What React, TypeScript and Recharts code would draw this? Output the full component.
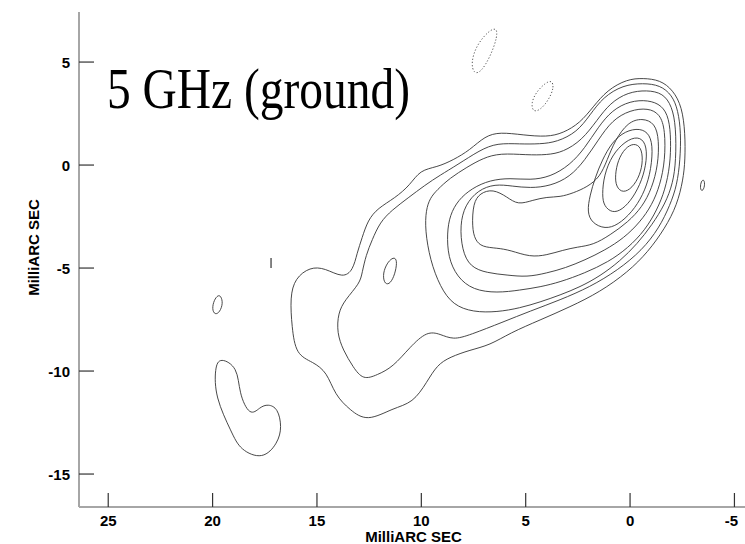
import React from 'react';
import { LineChart, Line, XAxis, YAxis } from 'recharts';

type Pt = [number, number];

const xTicks = [25, 20, 15, 10, 5, 0, -5];
const yTicks = [5, 0, -5, -10, -15];

// solid contours of the main source, outer -> inner (mas offsets)
const contour1: Pt[] = [
  [15.33, -4.95], [14.62, -5.0], [13.75, -5.49], [13.27, -5.1], [13.08, -4.27], [12.84, -3.54],
  [12.56, -2.67], [12.08, -2.09], [11.26, -1.6], [10.54, -0.97], [10.06, -0.24], [9.25, -0.1],
  [8.48, 0.24], [7.67, 0.73], [6.95, 1.41], [6.23, 1.6], [5.13, 1.46], [3.98, 1.36], [3.21, 1.55],
  [2.4, 2.04], [1.77, 2.82], [1.1, 3.64], [0.14, 4.17], [-0.62, 4.22], [-1.44, 4.13], [-2.06, 3.64],
  [-2.49, 2.82], [-2.64, 1.55], [-2.64, 0.24], [-2.54, -0.73], [-2.25, -1.94], [-1.68, -3.06],
  [-0.86, -4.22], [0.1, -5.19], [1.44, -6.16], [2.88, -6.89], [4.31, -7.52], [5.75, -8.15],
  [6.71, -8.74], [7.67, -8.98], [8.63, -9.32], [9.25, -9.71], [9.73, -10.53], [10.4, -11.55],
  [11.36, -11.8], [12.6, -12.47], [13.42, -11.89], [14.14, -11.16], [14.52, -10.05], [15.19, -9.56],
  [16.01, -9.22], [16.2, -7.86], [16.29, -6.41], [16.05, -5.49],
];
const contour2: Pt[] = [
  [13.75, -8.98], [14.04, -8.15], [13.99, -7.18], [13.66, -6.55], [12.94, -5.73], [12.84, -5.24],
  [12.65, -4.37], [12.36, -3.64], [11.98, -2.77], [11.4, -2.18], [10.64, -1.6], [9.82, -0.97],
  [9.1, -0.49], [8.29, 0], [7.19, 0.73], [6.37, 1.07], [5.27, 1.02], [4.31, 1.02], [3.5, 1.12],
  [2.54, 1.6], [1.92, 2.43], [1.29, 3.3], [0.34, 3.88], [-0.62, 3.98], [-1.44, 3.88], [-2.01, 3.4],
  [-2.3, 2.67], [-2.44, 1.55], [-2.4, 0.24], [-2.25, -0.97], [-1.92, -1.94], [-1.39, -3.06],
  [-0.58, -4.13], [0.58, -5.1], [1.92, -5.92], [3.35, -6.55], [4.79, -7.09], [6.09, -7.62],
  [7.67, -8.25], [8.48, -8.49], [9.1, -8.2], [9.73, -8.06], [10.54, -8.83], [11.36, -9.81],
  [12.12, -10.19], [12.79, -10.44], [13.27, -9.81],
];
const contour3: Pt[] = [
  [9.58, -1.6], [9.78, -2.18], [9.82, -3.16], [9.58, -4.61], [9.1, -5.92], [8.48, -6.8],
  [7.52, -7.14], [6.37, -7.14], [5.27, -6.94], [4.31, -6.65], [3.35, -6.31], [2.4, -5.92],
  [1.44, -5.39], [0.48, -4.66], [-0.34, -3.83], [-1.05, -2.91], [-1.68, -1.89], [-2.06, -0.87],
  [-2.2, 0.24], [-2.2, 1.84], [-2.01, 2.86], [-1.58, 3.49], [-0.81, 3.64], [0.1, 3.54],
  [0.96, 3.01], [1.58, 2.18], [2.3, 1.21], [3.21, 0.63], [3.98, 0.49], [4.94, 0.49], [6.23, 0.58],
  [7.04, 0.34], [7.81, -0.1], [8.63, -0.63], [9.25, -1.21],
];
const contour4: Pt[] = [
  [8.77, -3.3], [8.63, -2.43], [8.24, -1.7], [7.57, -1.12], [6.71, -0.73], [5.75, -0.63],
  [4.79, -0.73], [3.83, -0.58], [2.88, 0], [2.16, 0.83], [1.53, 1.84], [0.86, 2.67], [0, 3.11],
  [-0.86, 3.16], [-1.53, 2.91], [-1.87, 2.28], [-1.96, 1.21], [-1.92, 0], [-1.68, -1.21],
  [-1.29, -2.18], [-0.72, -3.16], [0.1, -4.03], [1.05, -4.71], [2.16, -5.24], [3.35, -5.68],
  [4.31, -5.92], [5.27, -6.07], [6.37, -6.21], [7.52, -6.07], [8.29, -5.44], [8.72, -4.47],
];
const contour5: Pt[] = [
  [8.15, -2.91], [7.91, -1.94], [7.28, -1.21], [6.47, -0.92], [5.65, -1.02], [4.79, -1.12],
  [3.83, -1.02], [2.88, -0.58], [2.16, 0.24], [1.53, 1.21], [0.86, 2.18], [0, 2.67], [-0.86, 2.77],
  [-1.44, 2.48], [-1.68, 1.7], [-1.68, 0.24], [-1.44, -0.97], [-1.05, -1.94], [-0.48, -2.77],
  [0.29, -3.54], [1.2, -4.13], [2.16, -4.61], [3.11, -5.0], [3.98, -5.24], [4.94, -5.44],
  [5.89, -5.34], [6.85, -5.24], [7.67, -4.95], [8.05, -4.13],
];
const contour6: Pt[] = [
  [7.52, -1.84], [7.19, -1.36], [6.57, -1.16], [5.89, -1.55], [5.37, -1.94], [4.65, -1.7],
  [3.98, -1.55], [3.35, -1.55], [2.73, -1.36], [2.06, -1.07], [1.44, -0.58], [1.1, 0.24],
  [0.72, 1.21], [0.1, 2.09], [-0.58, 2.28], [-1.2, 2.04], [-1.39, 1.21], [-1.34, 0], [-1.05, -1.12],
  [-0.58, -2.04], [0.1, -2.77], [0.96, -3.4], [1.77, -3.88], [2.54, -3.98], [3.21, -4.13],
  [3.98, -4.37], [4.79, -4.47], [5.75, -4.13], [6.37, -4.03], [7.09, -3.98], [7.43, -3.64], [7.57, -3.01],
];
const contour7: Pt[] = [
  [2.06, -2.28], [1.92, -1.46], [1.68, -0.63], [1.34, 0.24], [0.86, 1.12], [0.24, 1.65],
  [-0.48, 1.8], [-0.96, 1.5], [-1.1, 0.73], [-0.96, -0.49], [-0.62, -1.46], [-0.1, -2.28],
  [0.58, -2.91], [1.2, -3.11], [1.82, -2.82],
];
const contour8: Pt[] = [
  [1.34, -1.46], [1.25, -0.49], [0.86, 0.49], [0.24, 1.16], [-0.38, 1.41], [-0.77, 1.07],
  [-0.81, 0.24], [-0.58, -0.73], [-0.14, -1.6], [0.38, -2.18], [0.86, -2.33], [1.25, -1.99],
];
const contour9: Pt[] = [
  [0.72, -0.49], [0.58, 0.24], [0.24, 0.83], [-0.19, 1.07], [-0.53, 0.87], [-0.62, 0.24],
  [-0.48, -0.49], [-0.1, -1.12], [0.34, -1.36], [0.67, -1.07],
];

// small positive islands
const islandMid: Pt[] = [
  [11.21, -4.51], [11.17, -4.85], [11.31, -5.44], [11.55, -5.82], [11.79, -5.73], [11.84, -5.24],
  [11.64, -4.76], [11.4, -4.51],
];
const islandWest: Pt[] = [
  [19.6, -6.36], [19.5, -6.7], [19.65, -7.14], [19.89, -7.28], [20.03, -6.99], [19.93, -6.55], [19.74, -6.31],
];
const islandEast: Pt[] = [
  [-3.55, -0.68], [-3.59, -1.02], [-3.45, -1.31], [-3.35, -1.12], [-3.4, -0.78],
];
const blobSouthWest: Pt[] = [
  [19.65, -9.32], [18.78, -9.81], [18.74, -11.07], [18.21, -12.23], [17.73, -11.75], [17.35, -11.6],
  [16.87, -11.8], [16.68, -12.72], [16.87, -13.49], [17.59, -14.32], [18.69, -13.83], [19.07, -13.01],
  [19.89, -11.26], [19.89, -9.81],
];
const tinyMark: Pt[] = [[17.2, -4.51], [17.2, -5.0]];

// negative contours (dotted)
const negNorth: Pt[] = [
  [6.37, 6.7], [6.37, 6.16], [6.71, 5.24], [7.14, 4.51], [7.48, 4.42], [7.62, 4.95], [7.38, 5.78], [6.8, 6.5],
];
const negMid: Pt[] = [
  [3.74, 4.13], [3.64, 3.74], [3.93, 3.11], [4.31, 2.67], [4.65, 2.57], [4.74, 3.01], [4.5, 3.54], [4.07, 3.98],
];

const solidContours = [
  contour1, contour2, contour3, contour4, contour5, contour6, contour7, contour8, contour9,
  islandMid, islandWest, islandEast, blobSouthWest,
];
const dottedContours = [negNorth, negMid];

const toRows = (pts: Pt[]) => pts.map(([x, y]) => ({ x, y }));

const font = 'Liberation Sans, Arial, Helvetica, sans-serif';
const tickColor = '#333';
const frameColor = '#a6a6a6';
const lineColor = '#333';

const BottomTick = ({ x, y, payload }: any) => (
  <g>
    <line x1={x} y1={y} x2={x} y2={y - 14} stroke={tickColor} strokeWidth={1.2} />
    <text x={payload.value < 0 ? x - 3 : x} y={y + 19} textAnchor="middle" fontSize={15} fontWeight={700} fontFamily={font} fill="#000">
      {payload.value}
    </text>
  </g>
);
const TopTick = ({ x, y }: any) => (
  <line x1={x} y1={y} x2={x} y2={y + 14} stroke={tickColor} strokeWidth={1.2} />
);
const LeftTick = ({ x, y, payload }: any) => (
  <g>
    <line x1={x} y1={y} x2={x + 15} y2={y} stroke={tickColor} strokeWidth={1.2} />
    <text x={x - 9} y={y + 5.5} textAnchor="end" fontSize={15} fontWeight={700} fontFamily={font} fill="#000">
      {payload.value}
    </text>
  </g>
);
const RightTick = ({ x, y }: any) => (
  <line x1={x} y1={y} x2={x - 15} y2={y} stroke={tickColor} strokeWidth={1.2} />
);

const YTitle = ({ viewBox }: any) => {
  const cx = viewBox.x + 39;
  const cy = viewBox.y + viewBox.height / 2 - 12;
  return (
    <text x={cx} y={cy} transform={`rotate(-90 ${cx} ${cy})`} textAnchor="middle" fontSize={15} fontWeight={700} fontFamily={font} fill="#000">
      MilliARC SEC
    </text>
  );
};

export default function App() {
  const xDomain = [-5.65, 26.4];
  const yDomain = [-16.6, 7.43];
  return (
    <div style={{ position: 'absolute', left: 0, top: 0, width: 745, height: 544, overflow: 'hidden', background: '#fff' }}>
      <LineChart width={760} height={544} margin={{ top: 12, right: 12, bottom: 0, left: 0 }}>
        <XAxis
          xAxisId="b"
          type="number"
          dataKey="x"
          domain={xDomain}
          reversed
          allowDataOverflow
          ticks={xTicks}
          interval={0}
          height={37}
          tickSize={0}
          tickMargin={0}
          tick={<BottomTick />}
          axisLine={{ stroke: frameColor, strokeWidth: 2 }}
          label={{ value: 'MilliARC SEC', position: 'insideBottom', offset: 2, fontSize: 15, fontWeight: 700, fill: '#000', fontFamily: font }}
        />
        <XAxis
          xAxisId="t"
          orientation="top"
          type="number"
          dataKey="x"
          domain={xDomain}
          reversed
          allowDataOverflow
          ticks={xTicks}
          interval={0}
          height={0}
          tickSize={0}
          tickMargin={0}
          tick={<TopTick />}
          axisLine={{ stroke: frameColor, strokeWidth: 2 }}
        />
        <YAxis
          yAxisId="l"
          type="number"
          domain={yDomain}
          allowDataOverflow
          ticks={yTicks}
          interval={0}
          width={79}
          tickSize={0}
          tickMargin={0}
          tick={<LeftTick />}
          axisLine={{ stroke: frameColor, strokeWidth: 2 }}
          label={{ content: <YTitle /> }}
        />
        <YAxis
          yAxisId="r"
          orientation="right"
          type="number"
          domain={yDomain}
          allowDataOverflow
          ticks={yTicks}
          interval={0}
          width={0}
          tickSize={0}
          tickMargin={0}
          tick={<RightTick />}
          axisLine={{ stroke: frameColor, strokeWidth: 2 }}
        />
        {solidContours.map((c, i) => (
          <Line
            key={`s${i}`}
            data={toRows(c)}
            dataKey="y"
            xAxisId="b"
            yAxisId="l"
            type="basisClosed"
            stroke={lineColor}
            strokeWidth={0.9}
            dot={false}
            activeDot={false}
            isAnimationActive={false}
          />
        ))}
        <Line
          data={toRows(tinyMark)}
          dataKey="y"
          xAxisId="b"
          yAxisId="l"
          type="linear"
          stroke={lineColor}
          strokeWidth={1.2}
          dot={false}
          activeDot={false}
          isAnimationActive={false}
        />
        {dottedContours.map((c, i) => (
          <Line
            key={`d${i}`}
            data={toRows(c)}
            dataKey="y"
            xAxisId="b"
            yAxisId="l"
            type="basisClosed"
            stroke="#555"
            strokeWidth={1}
            strokeDasharray="1.2 2"
            dot={false}
            activeDot={false}
            isAnimationActive={false}
          />
        ))}
      </LineChart>
      <svg width={745} height={544} style={{ position: 'absolute', left: 0, top: 0, pointerEvents: 'none' }}>
        <text x={107} y={108} fontSize={57} fontFamily="Liberation Serif, Times New Roman, serif" textLength={303} lengthAdjust="spacingAndGlyphs" fill="#000">
          5 GHz (ground)
        </text>
      </svg>
    </div>
  );
}
